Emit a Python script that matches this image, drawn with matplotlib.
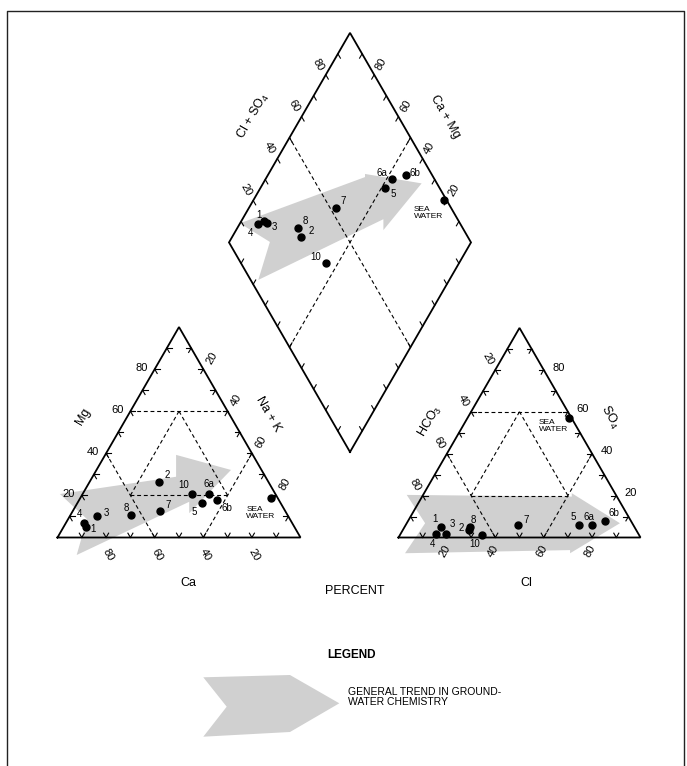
import numpy as np
import matplotlib
matplotlib.use("Agg")
import matplotlib.pyplot as plt
from matplotlib.patches import Polygon

plt.rcParams['font.family'] = ['Liberation Sans', 'DejaVu Sans']
plt.rcParams['mathtext.fontset'] = 'custom'
plt.rcParams['mathtext.rm'] = 'Liberation Sans'
plt.rcParams['mathtext.it'] = 'Liberation Sans:italic'
plt.rcParams['mathtext.bf'] = 'Liberation Sans:bold'

# ---- sample chemistry, percent of total milliequivalents per liter ----
samples = ['1', '2', '3', '4', '5', '6a', '6b', '7', '8', '10', 'SEA\nWATER']
mg   = [4.8, 26.5, 10.2, 7.0, 16.2, 20.6, 17.8, 12.5, 10.8, 20.6, 18.6]
na_k = [9.5, 28.5, 11.0, 7.5, 51.5, 52.2, 56.9, 36.0, 25.0, 45.0, 78.5]
so4  = [4.8, 3.5, 1.9, 1.8, 6.2, 5.8, 7.7, 5.9, 5.1, 1.0, 57.0]
cl   = [15.0, 27.5, 18.5, 14.5, 71.5, 76.9, 81.5, 46.4, 27.0, 34.2, 41.8]
tick_values = [20, 40, 60, 80]

mg = np.array(mg); na_k = np.array(na_k); so4 = np.array(so4); cl = np.array(cl)
ca_mg = 100 - na_k          # diamond cation coordinate
cl_so4 = cl + so4           # diamond anion coordinate

# ---- layout (figure is drawn in a pixel-like frame, y downward) ----
H = np.sqrt(3) / 2
CAT_O, CAT_S = (57.5, 537.5), 243.0
AN_O, AN_S = (398.5, 537.5), 242.0
DIA_O, DIA_S = (350.0, 452.0), 242.0

EDGE = dict(color='black', lw=1.3, solid_joinstyle='miter', zorder=3)
DASH = dict(color='black', lw=0.8, ls=(0, (3.5, 2.5)), zorder=2)
STUB = dict(color='black', lw=0.8, zorder=3)
GRAY = '#d0d0d0'
STUB_LEN = 5.0
FS_TICK, FS_NAME, FS_PT, FS_SEA = 8, 9, 7, 6

fig = plt.figure(figsize=(6.87, 7.66), dpi=100)
ax = fig.add_axes([0, 0, 1, 1])
ax.set_xlim(0, 687)
ax.set_ylim(766, 0)
ax.axis('off')


def tri_xy(origin, side, r, t):
    """r: component increasing to the right corner, t: component at the apex."""
    r = np.asarray(r, float); t = np.asarray(t, float)
    return origin[0] + side * (r + t / 2) / 100, origin[1] - side * H * t / 100


def dia_xy(a, c):
    """a: Cl + SO4, c: Ca + Mg."""
    a = np.asarray(a, float); c = np.asarray(c, float)
    return DIA_O[0] + DIA_S * 0.5 * (a - c) / 100, DIA_O[1] - DIA_S * H * (a + c) / 100


def local_pts(origin, side, pts):
    return [(origin[0] + side * u / 100, origin[1] - side * v / 100) for u, v in pts]


def draw_triangle(origin, side):
    xs, ys = tri_xy(origin, side, [0, 100, 0, 0], [0, 0, 100, 0])
    ax.plot(xs, ys, **EDGE)
    segs = [((0, 60), (40, 60)), ((0, 40), (40, 0)), ((60, 40), (60, 0)),
            ((20, 60), (20, 20)), ((20, 20), (60, 20)), ((60, 20), (20, 60))]
    for (r1, t1), (r2, t2) in segs:
        x, y = tri_xy(origin, side, [r1, r2], [t1, t2])
        ax.plot(x, y, **DASH)
    for i in range(10, 100, 10):
        for (r, t), dirs in [((i, 0), [(0.5, -H), (-0.5, -H)]),
                             ((0, i), [(1, 0), (0.5, H)]),
                             ((100 - i, i), [(-1, 0), (-0.5, H)])]:
            px, py = tri_xy(origin, side, r, t)
            for dx, dy in dirs:
                ax.plot([px, px + STUB_LEN * dx], [py, py + STUB_LEN * dy], **STUB)


def draw_points(xs, ys, offsets, sea_offset):
    ax.plot(xs, ys, 'o', color='black', ms=5, zorder=4)
    for name, x, y in zip(samples, xs, ys):
        if name.startswith('SEA'):
            ax.text(x + sea_offset[0], y + sea_offset[1], name, fontsize=FS_SEA,
                    ha='left', va='center', linespacing=0.95, zorder=5)
        else:
            dx, dy = offsets[name]
            ax.text(x + dx, y + dy, name, fontsize=FS_PT, ha='center', va='center', zorder=5)


def arrow(pts, **kw):
    ax.add_patch(Polygon(pts, closed=True, facecolor=GRAY, edgecolor='none', zorder=1, **kw))


# ---- trend arrows ----
arrow(local_pts(CAT_O, CAT_S, [(1.0, 17.9), (48.8, 25.0), (48.8, 34.0), (71.4, 27.8),
                               (54.2, 10.0), (54.2, 14.7), (7.9, -7.2), (12.1, 7.6)]))
arrow(local_pts(AN_O, AN_S, [(3.4, 17.6), (71.6, 16.9), (71.6, 18.3), (91.5, 5.9),
                             (70.9, -6.5), (70.9, -5.2), (2.7, -6.5), (11.0, 5.9)]))
arrow(local_pts(DIA_O, DIA_S, [(-45.5, 94.5), (6.2, 113.6), (6.2, 114.9), (29.6, 111.0),
                               (13.8, 91.7), (13.8, 96.2), (-37.9, 71.1), (-33.1, 86.8)]))

# ---- cation triangle ----
draw_triangle(CAT_O, CAT_S)
for v in tick_values:
    x, y = tri_xy(CAT_O, CAT_S, 0, v)
    ax.text(x - 13, y - 1, str(v), fontsize=FS_TICK, ha='center', va='center')
    x, y = tri_xy(CAT_O, CAT_S, v, 100 - v)
    ax.text(x + 8.5, y - 11, str(v), fontsize=FS_TICK, ha='center', va='center', rotation=60)
    x, y = tri_xy(CAT_O, CAT_S, 100 - v, 0)
    ax.text(x + 2.5, y + 17, str(v), fontsize=FS_TICK, ha='center', va='center', rotation=-60)
ax.text(83.3, 416.7, 'Mg', fontsize=FS_NAME, ha='center', va='center', rotation=60)
ax.text(268.3, 414, 'Na + K', fontsize=FS_NAME, ha='center', va='center', rotation=-60)
ax.text(188.3, 583.3, 'Ca', fontsize=FS_NAME, ha='center', va='center')
cx, cy = tri_xy(CAT_O, CAT_S, na_k, mg)
draw_points(cx, cy, {'1': (7, 2), '2': (8, -6.7), '3': (9.3, -2.7), '4': (-4.7, -8.7),
                     '5': (-8, 8.3), '6a': (-0.7, -9.7), '6b': (9.3, 8.3), '7': (8.3, -6),
                     '8': (-5, -7), '10': (-8.3, -9.3)}, (-24.7, 14.3))

# ---- anion triangle ----
draw_triangle(AN_O, AN_S)
for v in tick_values:
    x, y = tri_xy(AN_O, AN_S, 0, 100 - v)
    ax.text(x - 7.6, y - 11.2, str(v), fontsize=FS_TICK, ha='center', va='center', rotation=-60)
    x, y = tri_xy(AN_O, AN_S, 100 - v, v)
    ax.text(x + 14.5, y - 2.3, str(v), fontsize=FS_TICK, ha='center', va='center')
    x, y = tri_xy(AN_O, AN_S, v, 0)
    ax.text(x - 2, y + 13.5, str(v), fontsize=FS_TICK, ha='center', va='center', rotation=60)
ax.text(430, 421.7, r'HCO$_3$', fontsize=FS_NAME, ha='center', va='center', rotation=60)
ax.text(610, 416.7, r'SO$_4$', fontsize=FS_NAME, ha='center', va='center', rotation=-60)
ax.text(526.7, 583.3, 'Cl', fontsize=FS_NAME, ha='center', va='center')
axx, axy = tri_xy(AN_O, AN_S, cl, so4)
draw_points(axx, axy, {'1': (-5.7, -8), '2': (-8, -1.7), '3': (7.3, -10), '4': (-3, 10.3),
                       '5': (-6, -7.7), '6a': (-2.3, -8.7), '6b': (8.7, -8), '7': (8.7, -5),
                       '8': (3.7, -6.7), '10': (-7.7, 8.7)}, (-30, 7.7))

# ---- central diamond ----
xs, ys = dia_xy([0, 100, 100, 0, 0], [0, 0, 100, 100, 0])
ax.plot(xs, ys, **EDGE)
for (a1, c1), (a2, c2) in [((50, 0), (50, 100)), ((0, 50), (100, 50))]:
    x, y = dia_xy([a1, a2], [c1, c2])
    ax.plot(x, y, **DASH)
for i in range(10, 100, 10):
    for (a, c), (dx, dy) in [((i, 100), (0.5, H)), ((100, i), (-0.5, H)),
                             ((0, i), (0.5, -H)), ((i, 0), (-0.5, -H))]:
        px, py = dia_xy(a, c)
        ax.plot([px, px + STUB_LEN * dx], [py, py + STUB_LEN * dy], **STUB)
for v in tick_values:
    x, y = dia_xy(v, 100)
    ax.text(x - 7.5, y - 10.4, str(v), fontsize=FS_TICK, ha='center', va='center', rotation=-60)
    x, y = dia_xy(100, v)
    ax.text(x + 7, y - 10.4, str(v), fontsize=FS_TICK, ha='center', va='center', rotation=60)
ax.text(253.3, 116.7, r'Cl + SO$_4$', fontsize=FS_NAME, ha='center', va='center', rotation=60)
ax.text(445, 116.7, 'Ca + Mg', fontsize=FS_NAME, ha='center', va='center', rotation=-60)
dx_, dy_ = dia_xy(cl_so4, ca_mg)
draw_points(dx_, dy_, {'1': (-5, -6), '2': (10, -6), '3': (7.5, 4), '4': (-7.3, 9),
                       '5': (7.7, 6), '6a': (-10, -5.7), '6b': (8.7, -1.3), '7': (7.7, -7.3),
                       '8': (7.7, -6.3), '10': (-10.7, -6)}, (-30, 13))

ax.text(355, 591, 'PERCENT', fontsize=9, ha='center', va='center')

# ---- legend ----
ax.text(351, 655, 'LEGEND', fontsize=8.5, fontweight='bold', ha='center', va='center')
arrow([(203.3, 677.3), (290, 675), (339.3, 703.3), (290, 732), (203.3, 736.7), (226.7, 706.7)])
ax.text(348.3, 697, 'GENERAL TREND IN GROUND-\nWATER CHEMISTRY', fontsize=7.5,
        ha='left', va='center', linespacing=0.95)

# ---- page frame ----
ax.plot([7, 7, 684, 684], [770, 10.7, 10.7, 770], color='#222222', lw=1.0, zorder=6)

fig.savefig('out.png', dpi=100)
